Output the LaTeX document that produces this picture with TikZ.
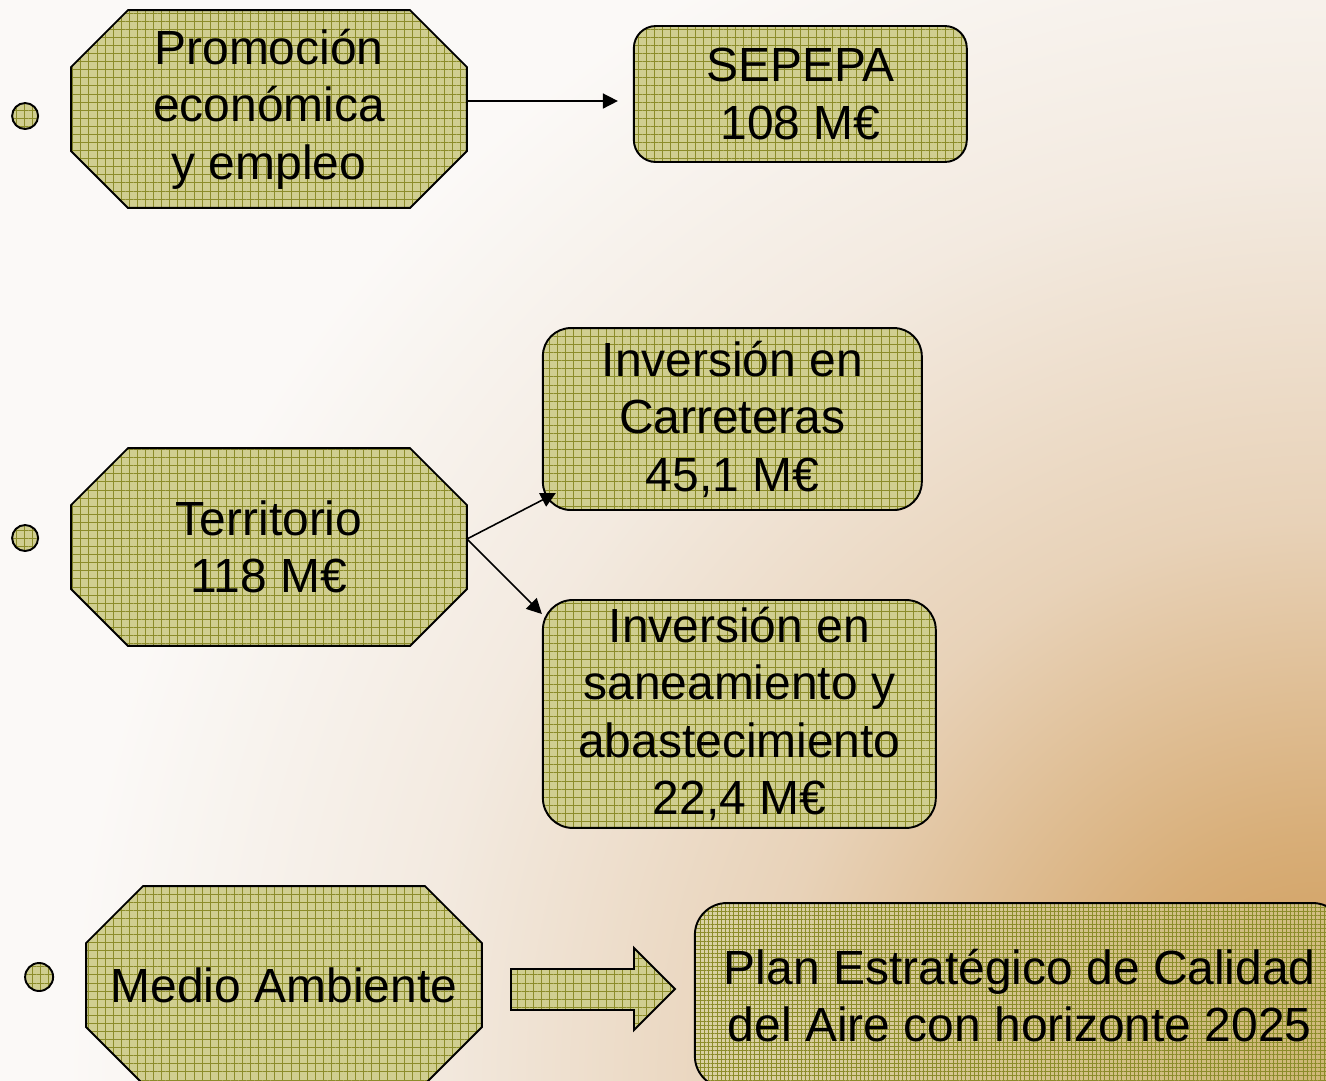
\documentclass[tikz,border=0pt]{standalone}
\usepackage{fontspec}
\setmainfont{Liberation Sans}
\usetikzlibrary{arrows.meta, positioning, calc, backgrounds, patterns.meta}

\definecolor{paper}{HTML}{FBF9F7}
\definecolor{glowD}{HTML}{F3EAE0}
\definecolor{glowC}{HTML}{E8D2B8}
\definecolor{glowB}{HTML}{D8AE78}
\definecolor{glowA}{HTML}{CC9650}
\definecolor{padbase}{HTML}{D0CE90}
\definecolor{padline}{HTML}{8C8C2A}

\pgfdeclareradialshading{bgglow}{\pgfpointorigin}{color(0bp)=(glowA); color(3.5bp)=(glowB); color(8bp)=(glowC); color(13bp)=(glowD); color(18bp)=(paper); color(50bp)=(paper)}

\begin{document}
\begin{tikzpicture}
  [x=0.02cm, y=-0.02cm, line width=1.1pt, >={Triangle[length=.3cm, width=.3cm]},
   font=\fontsize{27.3pt}{32.7pt}\selectfont,
   padfill/.style={preaction={fill=padbase},
     preaction={pattern={Lines[angle=0, distance=4.6pt, line width=.5pt]}, pattern color=padline},
     preaction={pattern={Lines[angle=90, distance=4.6pt, line width=.5pt]}, pattern color=padline}},
   padfine/.style={preaction={fill=padbase, fill opacity=.6},
     preaction={pattern={Lines[angle=0, distance=2.4pt, line width=.35pt]}, pattern color=padline, fill opacity=.6},
     preaction={pattern={Lines[angle=90, distance=2.4pt, line width=.35pt]}, pattern color=padline, fill opacity=.6}},
   octbox/.style={minimum width=7.88cm, minimum height=3.92cm, inner sep=0pt, align=center},
   tagbox/.style={draw, padfill, rounded corners=.56cm, align=center, inner sep=0pt},
   bulletdot/.style={circle, draw, padfill, minimum size=.52cm, inner sep=0pt},
   link/.style={->, line width=.9pt}]

  \useasboundingbox (0,0) rectangle (1326,1080);
  \begin{scope}[on background layer]
    \fill[paper] (0,0) rectangle (1326,1080);
    \shade[shading=bgglow] (1326,1080) circle (35cm);
  \end{scope}

  % left column
  \node[octbox] (promo) at (269,109) {Promoción\\económica\\y empleo};
  \node[octbox] (terr) at (269,547) {Territorio\\118 M€};
  \node[octbox] (medio) at (284,985) {Medio Ambiente};

  \node[bulletdot, left=.64cm of promo, yshift=-.14cm] (promodot) {};
  \node[bulletdot, left=.64cm of terr, yshift=.18cm] (terrdot) {};
  \node[bulletdot, minimum size=.56cm, left=.64cm of medio, yshift=.16cm] (mediodot) {};

  % right column
  \node[tagbox, rounded corners=.44cm, minimum width=6.66cm, minimum height=2.72cm,
        right=3.32cm of promo, yshift=.3cm] (sepepa) {SEPEPA\\108 M€};
  \node[tagbox, minimum width=7.58cm, minimum height=3.64cm,
        right=1.5cm of terr, yshift=2.56cm] (carr) {Inversión en\\Carreteras\\45,1 M€};
  \node[tagbox, rounded corners=.6cm, minimum width=7.86cm, minimum height=4.56cm,
        right=1.5cm of terr, yshift=-3.34cm] (sanea) {Inversión en\\saneamiento y\\abastecimiento\\22,4 M€};
  \node[draw, padfine, rounded corners=.64cm, align=center, inner sep=0pt,
        minimum width=13cm, minimum height=3.7cm,
        right=4.24cm of medio, yshift=-.21cm] (plan) {Plan Estratégico de Calidad\\del Aire con horizonte 2025};

  \begin{scope}[on background layer]
    \foreach \oct in {promo, terr, medio}
      \draw[padfill, line width=1.1pt]
        ([xshift=1.14cm]\oct.north west) -- ([xshift=-1.14cm]\oct.north east)
        -- ([yshift=-1.14cm]\oct.north east) -- ([yshift=1.14cm]\oct.south east)
        -- ([xshift=-1.14cm]\oct.south east) -- ([xshift=1.14cm]\oct.south west)
        -- ([yshift=1.14cm]\oct.south west) -- ([yshift=-1.14cm]\oct.north west) -- cycle;
  \end{scope}

  \draw[link, shorten >=.3cm] ([yshift=.16cm]promo.east) -- ([yshift=.16cm]promo.east -| sepepa.west);
  \draw[link] ([yshift=.16cm]terr.east) -- ([shift={(.28cm,.36cm)}]carr.south west);
  \draw[link] ([yshift=.16cm]terr.east) -- ([yshift=-.3cm]sanea.north west);

  % block arrow
  \draw[padfill] (511,969) -- (634,969) -- (634,948) -- (675,989) -- (634,1030)
    -- (634,1010) -- (511,1010) -- cycle;
\end{tikzpicture}
\end{document}
